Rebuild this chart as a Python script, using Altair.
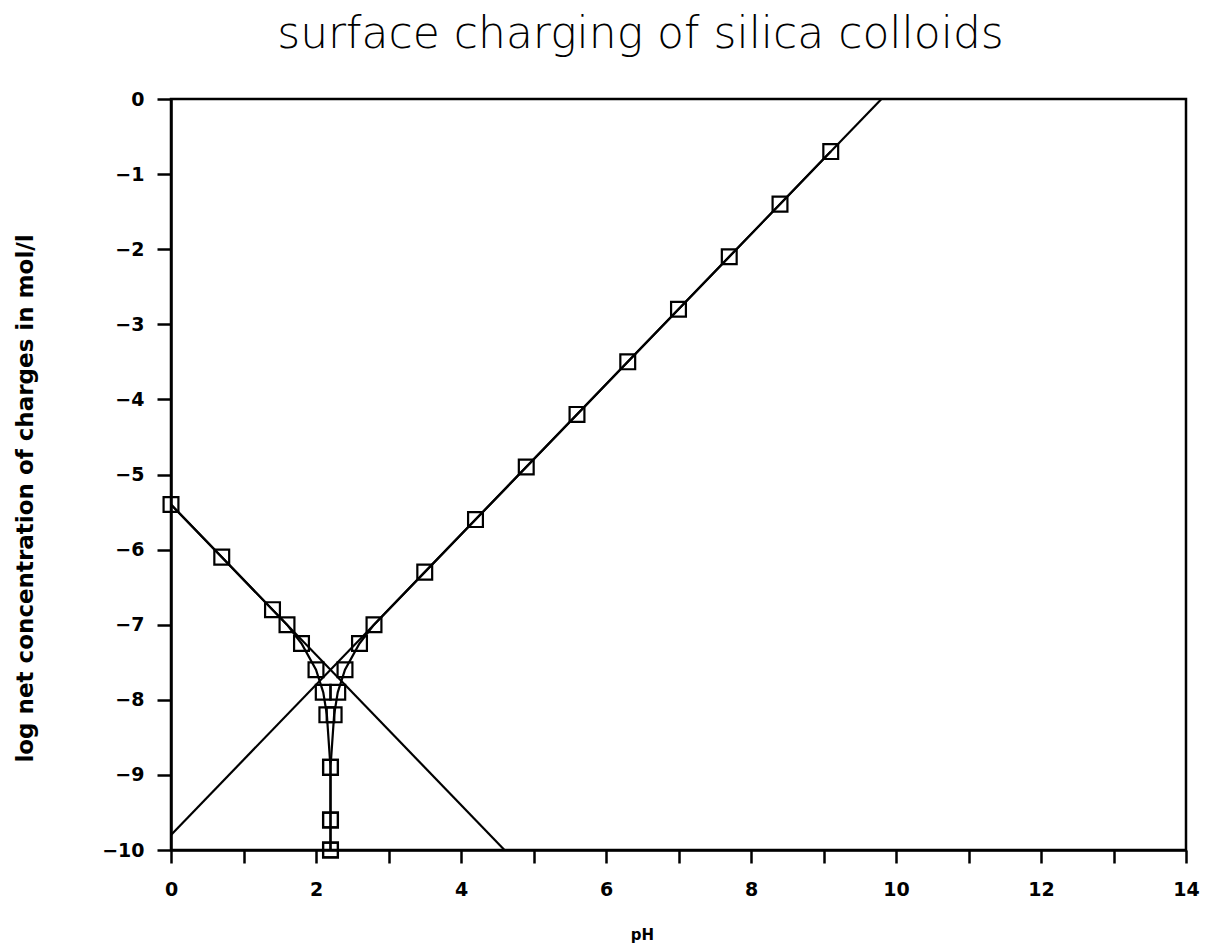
import altair as alt
import pandas as pd

# marker series
ph_left = [0.0, 0.7, 1.4, 1.6, 1.8, 2.0, 2.1, 2.15, 2.2, 2.2, 2.2]
y_left = [-5.4, -6.1, -6.8, -7.0, -7.25, -7.6, -7.9, -8.2, -8.9, -9.6, -10.0]

ph_right = [9.1, 8.4, 7.7, 7.0, 6.3, 5.6, 4.9, 4.2, 3.5, 2.8, 2.6, 2.4, 2.3, 2.25, 2.2, 2.2, 2.2]
y_right = [-0.7, -1.4, -2.1, -2.8, -3.5, -4.2, -4.9, -5.6, -6.3, -7.0, -7.25, -7.6, -7.9, -8.2, -8.9, -9.6, -10.0]

# straight reference lines (no markers)
ph_rise = [0.0, 9.8]
y_rise = [-9.8, 0.0]
ph_fall = [0.0, 4.6]
y_fall = [-5.4, -10.0]

x_ticks = list(range(0, 15))
y_ticks = list(range(-10, 1))

rows = []
for name, xs, ys in [("left", ph_left, y_left), ("right", ph_right, y_right),
                     ("rise", ph_rise, y_rise), ("fall", ph_fall, y_fall)]:
    for i, (a, b) in enumerate(zip(xs, ys)):
        rows.append({"series": name, "order": i, "pH": a, "logc": b})
df = pd.DataFrame(rows)

x_enc = alt.X("pH:Q",
              scale=alt.Scale(domain=[0, 14], nice=False, zero=False),
              axis=alt.Axis(values=x_ticks, title="pH",
                            labelExpr="datum.value % 2 == 0 ? datum.label : ''",
                            labelFlush=False,
                            titleX=471, titleY=89, titleBaseline="alphabetic",
                            titleAlign="center",
                            titleFontSize=15, titleFontWeight="bold",
                            tickSize=13, labelPadding=17))
y_enc = alt.Y("logc:Q",
              scale=alt.Scale(domain=[-10, 0], nice=False, zero=False),
              axis=alt.Axis(values=y_ticks, title="log net concentration of charges in mol/l",
                            labelFlush=False,
                            titleAngle=-90, titleX=-146, titleY=399,
                            titleAlign="center", titleBaseline="middle",
                            titleFontSize=23, titleFontWeight="bold",
                            tickSize=14, labelPadding=13))

lines = alt.Chart(df).mark_line(color="black", strokeWidth=2.2).encode(
    x=x_enc, y=y_enc, detail="series:N", order="order:Q")

points = alt.Chart(df).transform_filter(
    "datum.series == 'left' || datum.series == 'right'"
).mark_point(shape="square", size=220, filled=False, color="black",
             strokeWidth=2.2, opacity=1).encode(x=x_enc, y=y_enc)

chart = alt.layer(lines, points).properties(
    width=1015, height=751,
    title=alt.TitleParams("surface charging of silica colloids", anchor="middle",
                          frame="group", dx=-38, dy=17, offset=15, baseline="alphabetic",
                          fontSize=44, font="DejaVu Sans", fontWeight=200,
                          color="black"),
    autosize=alt.AutoSizeParams(type="none"),
    padding={"left": 163, "top": 91, "right": 18, "bottom": 93},
).configure_view(stroke="black", strokeWidth=2.5).configure_axis(
    grid=False, domainColor="black", domainWidth=2.5, tickColor="black",
    tickWidth=2.5, labelColor="black", titleColor="black",
    labelFont="DejaVu Sans", titleFont="DejaVu Sans",
    labelFontSize=19, labelFontWeight="bold"
)

chart.save("out.html", embed_options={"renderer": "svg", "actions": False})
